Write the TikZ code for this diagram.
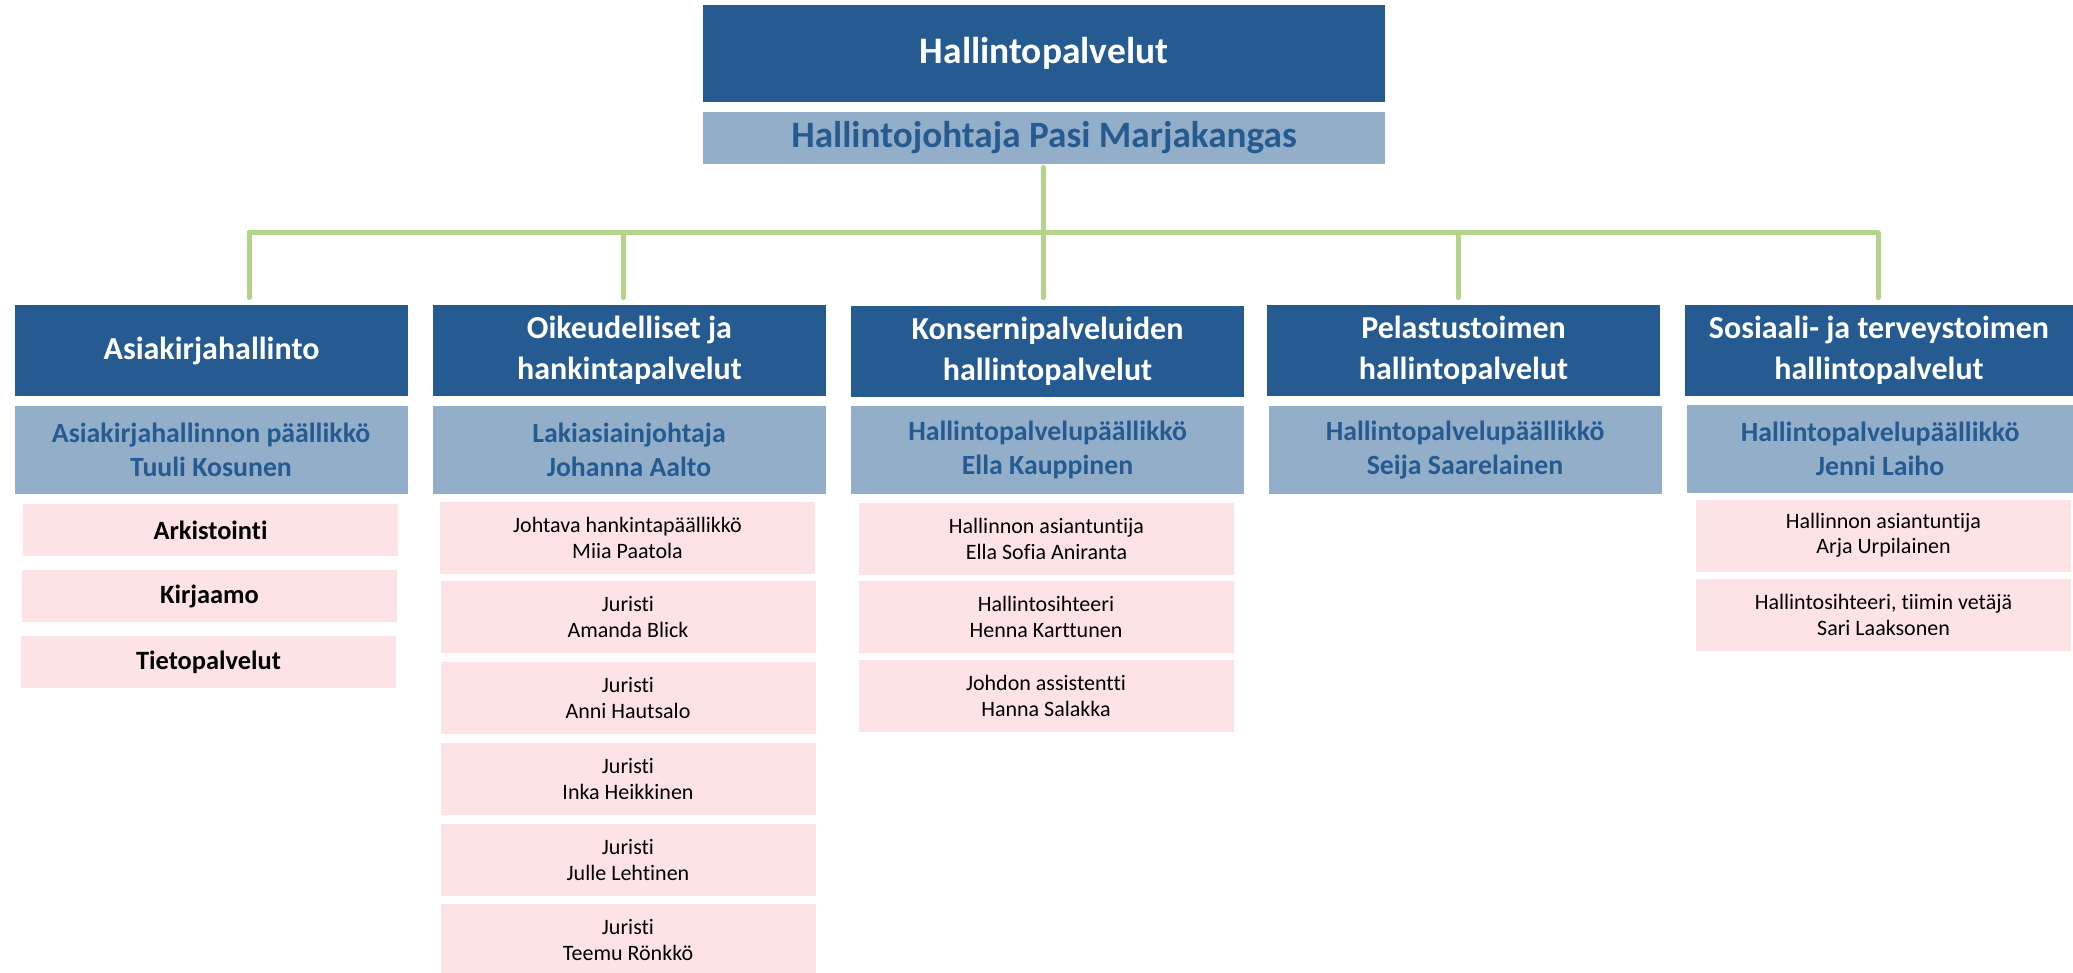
\documentclass[tikz,border=0pt]{standalone}
\usepackage{fontspec}
\setmainfont{Carlito}[Ligatures=NoCommon]
\definecolor{boxdark}{HTML}{265B92}
\definecolor{boxlight}{HTML}{93AEC8}
\definecolor{boxpink}{HTML}{FEE3E6}
\definecolor{linkgreen}{HTML}{B4D48B}
\begin{document}
\begin{tikzpicture}[x=0.5pt, y=-0.5pt,
  head/.style={fill=boxdark, text=white, font=\bfseries\fontsize{18.7}{22}\selectfont, minimum width=341pt, minimum height=48.5pt, inner sep=0pt},
  chief/.style={fill=boxlight, text=boxdark, font=\bfseries\fontsize{18.6}{22}\selectfont, minimum width=341pt, minimum height=26pt, inner sep=0pt},
  unit/.style={fill=boxdark, text=white, font=\bfseries\fontsize{16}{20.5}\selectfont, align=center, minimum width=196.5pt, minimum height=45.5pt, inner sep=0pt},
  boss/.style={fill=boxlight, text=boxdark, font=\bfseries\fontsize{13.9}{17}\selectfont, align=center, minimum width=196.5pt, minimum height=44pt, inner sep=0pt},
  task/.style={fill=boxpink, text=black, font=\bfseries\fontsize{13.2}{16.5}\selectfont, minimum width=187.5pt, minimum height=26pt, inner sep=0pt},
  staff/.style={fill=boxpink, text=black, font=\fontsize{11}{12.7}\selectfont, align=center, minimum width=187.5pt, minimum height=36pt, inner sep=0pt},
  link/.style={draw=linkgreen, line width=2.5pt, line cap=round}]
\useasboundingbox (0,0) rectangle (2073,973);
\node[head] (P_top) at (1044,53.5) {Hallintopalvelut};
\node[chief] (P_chief) at (1044,138) {Hallintojohtaja Pasi Marjakangas};
% yksikot
\node[unit] (P_1) at (211.5,350.5) {Asiakirjahallinto};
\node[unit] (P_2) at (629.5,350.5) {Oikeudelliset ja\\hankintapalvelut};
\node[unit] (P_3) at (1047.5,351.5) {Konsernipalveluiden\\hallintopalvelut};
\node[unit] (P_4) at (1463.5,350.5) {Pelastustoimen\\hallintopalvelut};
\node[unit, minimum width=194pt] (P_5) at (1879,350.5) {Sosiaali- ja terveystoimen\\hallintopalvelut};
\node[boss] (P_1_0) at (211,450) {Asiakirjahallinnon päällikkö\\Tuuli Kosunen};
\node[boss] (P_2_0) at (629,450) {Lakiasiainjohtaja\\Johanna Aalto};
\node[boss] (P_3_0) at (1047.5,450) {Hallintopalvelupäällikkö\\Ella Kauppinen};
\node[boss] (P_4_0) at (1465,450) {Hallintopalvelupäällikkö\\Seija Saarelainen};
\node[boss, minimum width=193pt] (P_5_0) at (1880,449) {Hallintopalvelupäällikkö\\Jenni Laiho};
% tehtavat
\node[task] (P_1_1) at (210.5,530) {Arkistointi};
\node[task] (P_1_2) at (209.5,596) {Kirjaamo};
\node[task] (P_1_3) at (208.5,662) {Tietopalvelut};
% henkilot
\node[staff] (P_2_1) at (627.5,538) {Johtava hankintapäällikkö\\Miia Paatola};
\node[staff] (P_2_2) at (628,617) {Juristi\\Amanda Blick};
\node[staff] (P_2_3) at (628,698) {Juristi\\Anni Hautsalo};
\node[staff] (P_2_4) at (628,779) {Juristi\\Inka Heikkinen};
\node[staff] (P_2_5) at (628,860) {Juristi\\Julle Lehtinen};
\node[staff] (P_2_6) at (628,940) {Juristi\\Teemu Rönkkö};
\node[staff] (P_3_1) at (1046.5,539) {Hallinnon asiantuntija\\Ella Sofia Aniranta};
\node[staff] (P_3_2) at (1046,617) {Hallintosihteeri\\Henna Karttunen};
\node[staff] (P_3_3) at (1046,696) {Johdon assistentti\\Hanna Salakka};
\node[staff] (P_5_1) at (1883.5,535.5) {Hallinnon asiantuntija\\Arja Urpilainen};
\node[staff] (P_5_2) at (1883.5,615) {Hallintosihteeri, tiimin vetäjä\\Sari Laaksonen};
% yhteydet
\coordinate (B_1) at (249,233);
\coordinate (B_2) at (623,233);
\coordinate (B_3) at (1043,233);
\coordinate (B_4) at (1458,233);
\coordinate (B_5) at (1878,233);
\draw[link] ([yshift=-1.5pt]P_chief.south -| B_3) -- (B_3);
\draw[link] (B_1) -- (B_5);
\draw[link, shorten >=3.5pt] (B_1) -- (B_1 |- P_1.north);
\draw[link, shorten >=3.5pt] (B_2) -- (B_2 |- P_2.north);
\draw[link, shorten >=3.5pt] (B_3) -- (B_3 |- P_1.north);
\draw[link, shorten >=3.5pt] (B_4) -- (B_4 |- P_4.north);
\draw[link, shorten >=3.5pt] (B_5) -- (B_5 |- P_5.north);
\end{tikzpicture}
\end{document}
